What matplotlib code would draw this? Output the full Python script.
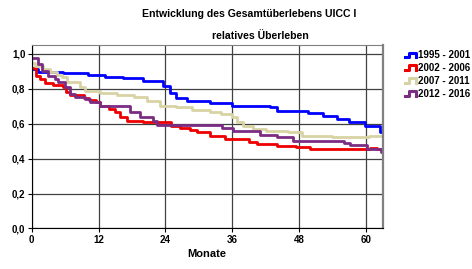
import matplotlib
matplotlib.use("Agg")
import matplotlib.pyplot as plt
from matplotlib.legend_handler import HandlerBase
from matplotlib.lines import Line2D

plt.rcParams["font.family"] = ["Liberation Sans", "DejaVu Sans"]
plt.rcParams["font.weight"] = "bold"

# Kaplan-Meier-like step data (months, relative survival)
t_1995 = [0, 1.2, 5.6, 10.1, 13.1, 16.4, 20.0, 23.6, 24.8, 26.0, 27.8, 32.0, 35.9,
          42.8, 44.0, 49.7, 52.4, 54.8, 56.9, 59.9, 62.6, 63]
s_1995 = [0.913, 0.897, 0.890, 0.878, 0.869, 0.859, 0.842, 0.817, 0.773, 0.745, 0.728,
          0.716, 0.703, 0.694, 0.674, 0.663, 0.646, 0.627, 0.607, 0.589, 0.550, 0.550]

t_2002 = [0, 0.8, 1.4, 2.4, 3.8, 5.6, 6.2, 6.8, 9.3, 10.2, 11.6, 12.3, 13.8, 15.0,
          15.9, 17.1, 20.0, 25.1, 26.6, 28.5, 29.6, 32.0, 34.7, 39.0, 40.5, 44.0,
          47.5, 49.9, 60.8, 62.0, 63]
s_2002 = [0.920, 0.874, 0.855, 0.832, 0.820, 0.808, 0.780, 0.766, 0.747, 0.735, 0.722,
          0.703, 0.684, 0.665, 0.640, 0.617, 0.607, 0.589, 0.577, 0.565, 0.550, 0.531,
          0.512, 0.493, 0.484, 0.474, 0.465, 0.453, 0.462, 0.455, 0.455]

t_2007 = [0, 0.5, 2.1, 3.3, 4.5, 5.4, 6.3, 8.7, 9.6, 12.3, 15.3, 18.3, 20.7, 23.0,
          26.0, 28.8, 32.0, 34.0, 35.9, 36.8, 38.0, 39.8, 42.0, 46.0, 48.6, 54.0,
          60.5, 63]
s_2007 = [0.945, 0.930, 0.913, 0.897, 0.878, 0.865, 0.836, 0.808, 0.789, 0.773, 0.766,
          0.750, 0.731, 0.703, 0.694, 0.678, 0.669, 0.655, 0.636, 0.611, 0.589, 0.570,
          0.560, 0.550, 0.531, 0.522, 0.531, 0.531]

t_2012 = [0, 1.2, 1.8, 3.0, 4.2, 4.8, 6.0, 6.9, 7.8, 9.6, 10.5, 12.3, 17.6, 19.5,
          21.8, 22.5, 34.1, 36.2, 41.0, 44.0, 47.0, 56.0, 57.2, 60.2, 62.7, 63]
s_2012 = [0.973, 0.940, 0.903, 0.874, 0.855, 0.840, 0.810, 0.770, 0.750, 0.740, 0.722,
          0.703, 0.665, 0.640, 0.617, 0.592, 0.575, 0.560, 0.537, 0.522, 0.503, 0.490,
          0.478, 0.455, 0.436, 0.436]

labels = ["1995 - 2001", "2002 - 2006", "2007 - 2011", "2012 - 2016"]
colors = ["#0000ff", "#ee0000", "#d8d3a4", "#7b2d84"]

x_ticks = [0, 12, 24, 36, 48, 60]
y_ticks = [0.0, 0.2, 0.4, 0.6, 0.8, 1.0]
y_ticklabels = ["0,0", "0,2", "0,4", "0,6", "0,8", "1,0"]


class StepHandler(HandlerBase):
    # little step icon like the one in the SPSS legend
    def create_artists(self, legend, orig_handle, xdescent, ydescent,
                       width, height, fontsize, trans):
        x0, y0 = -xdescent, -ydescent + 0.15 * height
        h = 0.7 * height
        xs = [x0, x0 + 0.35 * width, x0 + 0.35 * width, x0 + width, x0 + width]
        ys = [y0, y0, y0 + h, y0 + h, y0]
        ln = Line2D(xs, ys, color=orig_handle.get_color(), lw=2.2,
                    solid_joinstyle="round", transform=trans)
        return [ln]


fig = plt.figure(figsize=(4.72, 2.69), dpi=100)
ax = fig.add_axes([0.0672, 0.1506, 0.7432, 0.6821])

handles = []
for t, s, c, lab in zip([t_1995, t_2002, t_2007, t_2012],
                        [s_1995, s_2002, s_2007, s_2012], colors, labels):
    h, = ax.step(t, s, where="post", color=c, lw=2.0, label=lab)
    handles.append(h)

ax.set_xlim(0, 63)
ax.set_ylim(0, 1.05)
ax.set_xticks(x_ticks)
ax.set_yticks(y_ticks)
ax.set_yticklabels(y_ticklabels)
ax.tick_params(labelsize=7, length=3, width=0.8, pad=1.5)
for lbl in ax.get_xticklabels() + ax.get_yticklabels():
    lbl.set_fontweight("bold")

ax.grid(True, color="#404040", lw=0.9)
ax.set_axisbelow(True)
ax.spines["left"].set_color("black")
ax.spines["bottom"].set_color("black")
ax.spines["top"].set_color("#808080")
ax.spines["right"].set_color("#808080")
ax.spines["right"].set_linewidth(1.6)

ax.set_xlabel("Monate", fontsize=8, fontweight="bold", labelpad=3)

fig.text(0.528, 0.948, "Entwicklung des Gesamtüberlebens UICC I",
         ha="center", va="center", fontsize=7.6, fontweight="bold")
fig.text(0.551, 0.866, "relatives Überleben",
         ha="center", va="center", fontsize=7.6, fontweight="bold")

fig.legend(handles=handles, labels=labels, loc="upper left",
           bbox_to_anchor=(0.857, 0.813), frameon=False,
           handler_map={h: StepHandler() for h in handles},
           handlelength=1.2, handleheight=0.7, handletextpad=0.15,
           labelspacing=0.3, borderpad=0, borderaxespad=0,
           prop={"weight": "bold", "size": 7})

fig.savefig("out.png", dpi=100)
